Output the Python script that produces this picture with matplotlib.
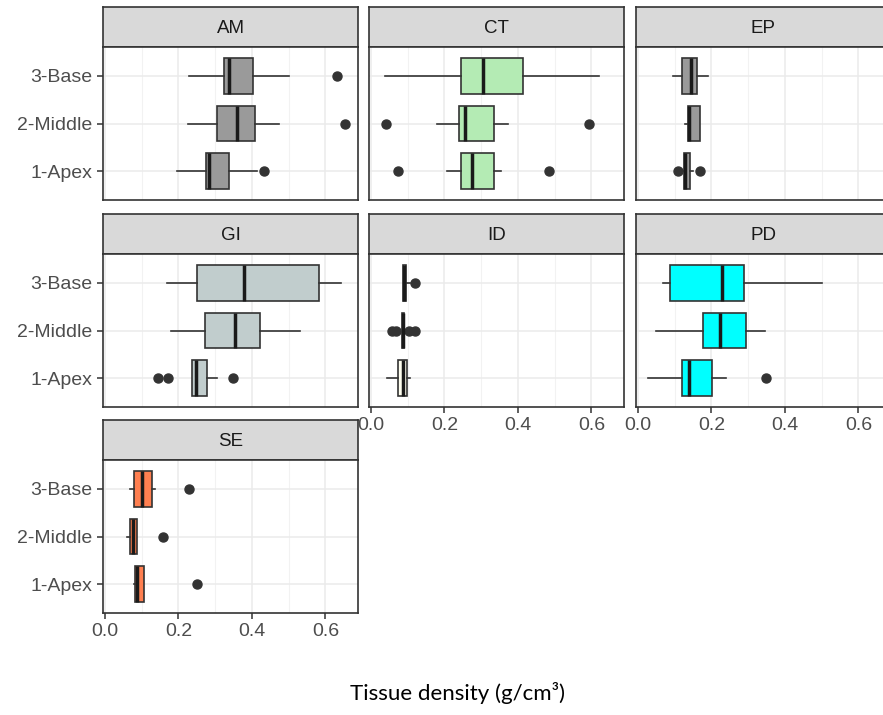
import matplotlib
matplotlib.use('Agg')
import matplotlib.pyplot as plt
import numpy as np

plt.rcParams['font.family'] = ['Liberation Sans', 'DejaVu Sans']

# regions, bottom to top (1-Apex, 2-Middle, 3-Base)
regions = ['1-Apex', '2-Middle', '3-Base']

# (whisker low, q1, median, q3, whisker high) per region
am_box = [(0.197, 0.276, 0.283, 0.339, 0.413), (0.226, 0.305, 0.359, 0.408, 0.475), (0.229, 0.323, 0.339, 0.403, 0.502)]
am_out = [[0.434], [0.653], [0.633]]
ct_box = [(0.207, 0.245, 0.276, 0.335, 0.355), (0.179, 0.239, 0.256, 0.335, 0.373), (0.039, 0.245, 0.305, 0.414, 0.620)]
ct_out = [[0.074, 0.484], [0.041, 0.595], []]
ep_box = [(0.121, 0.126, 0.129, 0.141, 0.149), (0.128, 0.137, 0.140, 0.169, 0.169), (0.096, 0.119, 0.144, 0.160, 0.190)]
ep_out = [[0.108, 0.168], [], []]
gi_box = [(0.236, 0.236, 0.247, 0.278, 0.306), (0.179, 0.273, 0.355, 0.423, 0.531), (0.170, 0.250, 0.378, 0.584, 0.642)]
gi_out = [[0.145, 0.172, 0.349], [], []]
id_box = [(0.044, 0.073, 0.086, 0.097, 0.105), (0.084, 0.085, 0.087, 0.090, 0.091), (0.087, 0.088, 0.091, 0.094, 0.105)]
id_out = [[], [0.056, 0.068, 0.104, 0.121], [0.121]]
pd_box = [(0.027, 0.121, 0.139, 0.201, 0.240), (0.050, 0.178, 0.222, 0.294, 0.345), (0.069, 0.087, 0.228, 0.290, 0.501)]
pd_out = [[0.349], [], []]
se_box = [(0.079, 0.083, 0.088, 0.107, 0.107), (0.059, 0.068, 0.075, 0.088, 0.088), (0.068, 0.079, 0.100, 0.129, 0.136)]
se_out = [[0.251], [0.158], [0.228]]

tissues = ['AM', 'CT', 'EP', 'GI', 'ID', 'PD', 'SE']
boxes = [am_box, ct_box, ep_box, gi_box, id_box, pd_box, se_box]
outs = [am_out, ct_out, ep_out, gi_out, id_out, pd_out, se_out]
fills = ['#9a9a9a', '#b4ebb4', '#9a9a9a', '#c1cdcd', '#fffff0', '#00ffff', '#ff7f50']

W, H = 883, 715
fig = plt.figure(figsize=(W / 100, H / 100), dpi=100)

col_left = [103, 369, 636]
row_top = [7, 214, 420]
pw, sh, ph = 255, 40, 153
dark = '#333333'


def rect(left, top, w, h):
    return [left / W, 1 - (top + h) / H, w / W, h / H]


for i, t in enumerate(tissues):
    r, c = divmod(i, 3)
    left, top = col_left[c], row_top[r]

    # strip
    sa = fig.add_axes(rect(left, top, pw, sh))
    sa.set_facecolor('#d9d9d9')
    sa.set_xticks([])
    sa.set_yticks([])
    for s in sa.spines.values():
        s.set_color(dark)
        s.set_linewidth(1.2)
    sa.text(0.5, 0.47, t, ha='center', va='center', fontsize=13.5,
            color='#1a1a1a', transform=sa.transAxes)

    ax = fig.add_axes(rect(left, top + sh, pw, ph))

    stats = []
    for b, o in zip(boxes[i], outs[i]):
        stats.append(dict(whislo=b[0], q1=b[1], med=b[2], q3=b[3], whishi=b[4], fliers=o))
    ax.bxp(stats, positions=[1, 2, 3], widths=0.75, orientation='horizontal',
           patch_artist=True, showcaps=False, manage_ticks=False,
           boxprops=dict(facecolor=fills[i], edgecolor=dark, linewidth=1.2),
           medianprops=dict(color='#1a1a1a', linewidth=2.5, solid_capstyle='butt'),
           whiskerprops=dict(color=dark, linewidth=1.2),
           flierprops=dict(marker='o', markerfacecolor=dark, markeredgecolor=dark,
                           markersize=6.5))

    ax.set_xlim(-0.0055, 0.689)
    ax.set_ylim(0.4, 3.6)
    ax.set_xticks([0, 0.2, 0.4, 0.6])
    ax.set_xticks([0.1, 0.3, 0.5], minor=True)
    ax.set_yticks([1, 2, 3])
    ax.set_yticks([], minor=True)
    ax.grid(True, which='major', color='#ebebeb', lw=1.1, zorder=0)
    ax.grid(True, which='minor', axis='x', color='#f2f2f2', lw=0.8, zorder=0)
    ax.set_axisbelow(True)

    for s in ax.spines.values():
        s.set_color(dark)
        s.set_linewidth(1.2)
    ax.tick_params(which='both', length=0)
    ax.tick_params(which='major', color=dark, labelcolor='#4d4d4d', labelsize=14)

    show_y = c == 0
    show_x = (t in ['ID', 'PD', 'SE'])
    ax.set_yticklabels(regions if show_y else ['', '', ''])
    ax.tick_params(axis='y', which='major', length=4 if show_y else 0, width=1.1)
    ax.set_xticklabels(['0.0', '0.2', '0.4', '0.6'] if show_x else ['', '', '', ''])
    ax.tick_params(axis='x', which='major', length=4 if show_x else 0, width=1.1)

fig.text(458 / W, 1 - 693 / H, 'Tissue density (g/cm\u00b3)', ha='center', va='center',
         fontsize=16, family='Lato', color='black')

fig.savefig('out.png', dpi=100)
